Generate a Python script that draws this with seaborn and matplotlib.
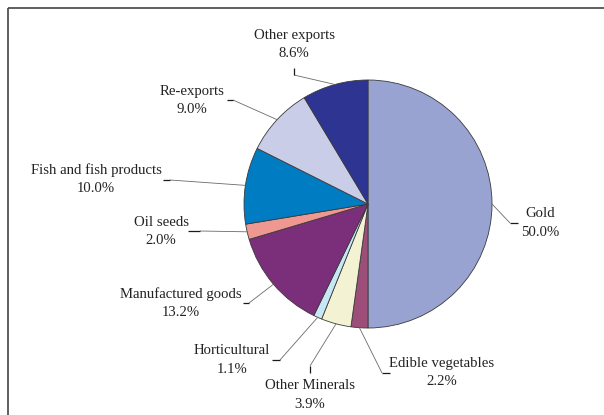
import matplotlib
matplotlib.use("Agg")
import matplotlib.pyplot as plt
import numpy as np
import seaborn as sns

# Export composition (share of total, %)
categories = [
    "Gold", "Edible vegetables", "Other Minerals", "Horticultural",
    "Manufactured goods", "Oil seeds", "Fish and fish products",
    "Re-exports", "Other exports",
]
shares = [50.0, 2.2, 3.9, 1.1, 13.2, 2.0, 10.0, 9.0, 8.6]
colors = [
    "#99A3D2", "#9C4E79", "#F3F3D3", "#C6E7F3",
    "#7B2E79", "#EF9892", "#007CC2", "#C9CDE7", "#2E3491",
]

# Layout in pixel units (origin top-left); y is flipped when drawing
W, H = 604, 415
CX, CY, R = 368, 204, 124
label_pos = [(540, 223), (442, 372.5), (310, 395), (232, 360), (181, 303),
             (161, 231.5), (96, 179), (192, 100.5), (294, 44.5)]
elbows = [(510, 223), (382, 373), (310, 366), (280, 360), (249, 303),
          (200, 231), (170, 180), (233, 100), (294, 75)]
tick_ends = [(518, 223), (390, 373), (310, 373), (272, 360), (243, 303),
             (188, 231), (163, 180), (227, 100), (294, 68)]

sns.set_theme(style="white")
plt.rcParams["font.family"] = ["Liberation Serif", "DejaVu Serif"]

fig = plt.figure(figsize=(W / 100, H / 100), dpi=100)
fig.patch.set_facecolor("white")
ax = fig.add_axes([0, 0, 1, 1])


def fy(y):
    return H - y


wedges, _ = ax.pie(
    shares, colors=colors, startangle=90, counterclock=False,
    center=(CX, fy(CY)), radius=R,
    wedgeprops=dict(edgecolor="#3a3a3a", linewidth=0.6),
)

ax.set_xlim(0, W)
ax.set_ylim(0, H)
ax.set_aspect("equal")
ax.axis("off")

for wedge, name, val, (lx, ly), (ex, ey), (tx, ty) in zip(
        wedges, categories, shares, label_pos, elbows, tick_ends):
    mid = np.deg2rad((wedge.theta1 + wedge.theta2) / 2)
    ax_x = CX + R * np.cos(mid)
    ax_y = fy(CY) + R * np.sin(mid)
    ax.plot([ax_x, ex], [ax_y, fy(ey)], color="#6a6a6a", lw=0.6,
            solid_capstyle="butt")
    ax.plot([ex, tx], [fy(ey), fy(ty)], color="#1a1a1a", lw=0.9,
            solid_capstyle="butt")
    ax.text(lx, fy(ly), f"{name}\n{val:.1f}%", ha="center", va="center",
            fontsize=10.6, color="#222222", linespacing=1.55)

# Frame lines along the top and left edges
ax.plot([8, W], [fy(8), fy(8)], color="#444444", lw=1.2, solid_capstyle="butt")
ax.plot([8, 8], [fy(8), 0], color="#444444", lw=1.2, solid_capstyle="butt")

fig.savefig("out.png", dpi=100, facecolor="white")
